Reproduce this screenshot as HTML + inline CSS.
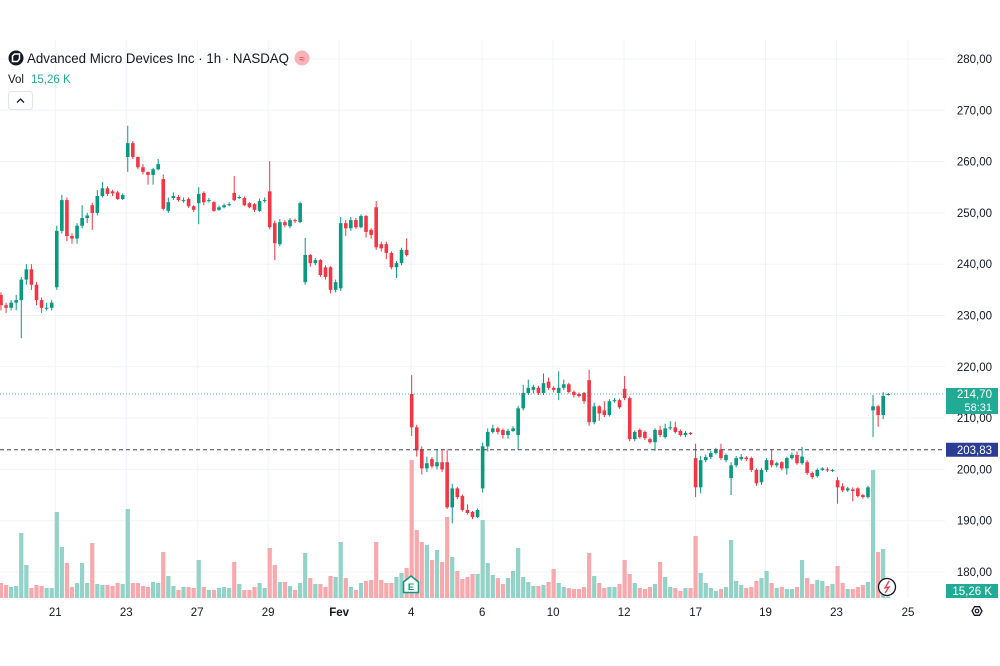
<!DOCTYPE html>
<html><head><meta charset="utf-8"><style>
html,body{margin:0;padding:0;background:#fff;width:1000px;height:666px;overflow:hidden;font-family:"Liberation Sans",sans-serif}
#c{position:absolute;left:0;top:0}
</style></head><body>
<svg id="c" width="1000" height="666" viewBox="0 0 1000 666">
<g id="grid"></g>
<g id="vol"></g>
<g id="candles"></g>
<g id="lines"></g>
<g id="axis"></g>
<g id="xaxis"></g>
<g>
<circle cx="16" cy="58" r="7.5" fill="#131722"/>
<path d="M12.5 61.5 L12.5 56 L14.5 54 L19.5 54 L19.5 59 L17.5 61.5 Z" fill="none" stroke="#fff" stroke-width="1.5"/>
<text x="27" y="63" font-size="14" fill="#131722" textLength="262" lengthAdjust="spacingAndGlyphs">Advanced Micro Devices Inc · 1h · NASDAQ</text>
<circle cx="302" cy="58" r="7.5" fill="#f7b3b8"/>
<text x="302" y="62" font-size="10" fill="#f23645" text-anchor="middle">≈</text>
<text x="8" y="83" font-size="11.5" fill="#131722">Vol</text>
<text x="31" y="83" font-size="11.5" fill="#22ab94">15,26 K</text>
<rect x="8.5" y="91.5" width="24" height="18" rx="3" fill="#fff" stroke="#e0e3eb"/>
<path d="M17 102.5 L20.5 99 L24 102.5" fill="none" stroke="#131722" stroke-width="1.3"/>
</g>
<g>
<path d="M403.5 592.5 V582 L411 576 L418.5 582 V592.5 Z" fill="#fff" stroke="#089981" stroke-width="1.6" stroke-linejoin="round"/>
<text x="411" y="590" font-size="9.5" font-weight="bold" fill="#089981" text-anchor="middle">E</text>
</g>
<g>
<circle cx="887" cy="587" r="8.5" fill="#fff" stroke="#131722" stroke-width="1.3"/>
<path d="M889 581 L885 588 L889 587 L885 593" fill="none" stroke="#f23645" stroke-width="1.3"/>
</g>
<g>
<path d="M972 611 L974.5 606.7 L979.5 606.7 L982 611 L979.5 615.3 L974.5 615.3 Z" fill="none" stroke="#131722" stroke-width="1.3"/>
<circle cx="977" cy="611" r="1.8" fill="none" stroke="#131722" stroke-width="1.2"/>
</g>
</svg>
<script>
const opens=[234,232,231.5,232.5,233,237,239,236,233,231.5,231.5,235.5,246.5,252.5,245.5,245,247.5,249,251.5,250,253.3,254.8,254.2,254,252.7,260.9,263.6,260.9,258.9,258,257.4,258.5,256.6,250.4,252.9,253.1,252.3,252.7,251.3,251.9,253.9,252.3,252.1,250.6,251.1,251.5,253.9,252.9,252.9,251.9,251.7,250.4,252.3,254.2,248,243.9,248.2,247.4,248.6,248.2,236.5,241.8,240.2,240.8,239.4,239.4,235,235.3,248,247,248.6,247.2,249.4,246.7,251.1,243.9,243.9,242.2,239.4,240.2,242.8,214.7,208.2,203.9,200.2,202,200.6,201.4,201.4,192.6,196.3,194.8,192.1,191.7,190.7,196.3,204.5,207.3,208,207.7,206.7,207.5,206.7,211.9,214.9,215.5,215.9,214.9,217.1,215.9,214.9,215.9,216.6,215.1,214.7,214.9,217.4,209.2,212.3,211.5,210.6,213.3,213.5,215.7,213.9,205.9,207.7,207.3,205.9,205.3,207.7,206.3,208,208.2,207.5,206.7,207.1,202.2,196.5,201.8,202.4,203.2,203.9,201.8,198.3,200.8,202,202.3,202.2,199.9,197.5,199.9,201.8,200.8,201.4,200.2,202.2,202.8,201.2,201.4,199.3,198.7,199.9,200,199.8,197.9,196.7,195.9,196.1,196.3,195,194.6,211.5,212.3,210.6,214.5];
const closes=[232,231.5,232.5,233,237,239,236,233,231.5,231.5,232.5,246.5,252.5,245.5,245,247.5,249,249.5,250,253.3,254.8,253.7,253.8,252.7,253.5,263.6,260.9,258.9,258,257.4,258.5,259.5,250.8,252.1,253.3,252.5,252.5,251.3,250.6,253.7,252.1,252.5,250.4,251.1,251.5,251.7,252.5,253.1,251.5,251.1,250.6,252.3,252.5,247.2,244.1,248.2,247.6,248.6,248.4,251.9,241.8,240.2,240.8,237.9,237.5,235,236.5,248,247,248.6,247.2,249.4,246.3,245.7,243.3,243.1,242.2,239.4,240.2,242.8,241.8,208.2,203.7,200.2,201.2,200.6,201.4,200,192.6,196.3,194.6,192.1,191.5,190.7,192.1,204.5,207.3,208,207.3,206.7,207.5,208,211.9,214.9,215.9,216.1,214.9,216.8,215.9,215.5,215.9,216.6,215.1,214.5,214.3,213.3,209.2,212.3,210.9,210.6,213.3,213.5,212.1,213.9,205.9,207.3,206.3,206.1,205.3,207.7,206.7,208,208.2,207.3,206.7,207.1,207,196.5,201.8,202.4,203.2,203.8,202.2,202.8,200.8,202.2,202.4,202,199.9,197.3,199.9,201.8,200.8,201.2,200.2,202.2,202.8,201.2,202.5,199.3,198.5,199.9,200.2,199.8,199.9,196.5,195.9,196.3,195.8,194.8,194.6,196.5,212.3,210.6,214.3,214.7];
const highs=[234.5,232.5,233,234,237.5,240,240,236.5,233.5,232.5,233,247.5,253.5,253,246,248,251.5,250,252,254.5,256,255.2,254.5,254.3,253.8,267,264,261,259.5,258,258.8,260.5,257.5,253,254,253.5,253,253,251.5,255,254.2,252.9,252.3,251.4,251.8,252.1,257.2,253.4,253.2,252.1,251.9,252.8,253,260.1,248.5,248.8,248.6,249,248.9,252.2,245.1,242,241.2,241,239.8,239.6,237,249.2,248.6,249.2,249,249.7,249.6,247,252.3,244.4,244.4,242.5,240.6,243.2,245,218.4,208.7,204.5,202.5,202.4,204,203.9,203.9,197.2,196.6,195.1,193.2,191.9,192.4,205.2,208,208.7,208.3,208,207.9,208.4,212.4,216.5,217.5,216.5,216.3,218.7,217.9,216.2,219.1,217.5,216.9,215.4,215,215.1,219.4,213,212.5,213.3,213.7,213.9,213.8,218.2,214.2,207.6,208,207.6,206.2,208,208.5,208.9,209.4,209.3,207.8,207.5,207.3,205,202.6,202.9,203.6,204.2,205,203.1,201.4,202.6,203,202.6,202.5,200.2,200.3,202.2,203.8,201.5,201.6,202.5,203.3,203.5,204.4,201.8,199.6,200.2,200.4,200.4,200.1,198.5,197.3,196.6,196.5,196.5,195.2,196.8,214.5,212.6,215.1,214.9];
const lows=[231,230.5,231,231,225.6,236,235,232,230.5,231,231,235,246,244.5,244,244,247,248,246.7,249.5,253,253.3,253.3,252.5,252.5,258,260.5,258.5,257.5,255.5,255.5,258.3,250.5,250,252.5,252.2,252,251,250.2,247.8,251.5,252,250.2,250.4,250.9,251.3,252.3,252.7,251.3,250.9,250.2,250.2,252,246.8,240.8,243.5,247.2,247,248,248,236,239.5,239.8,237.5,237,234.3,234.5,234.8,245.5,246.5,246.9,247,245.2,245,242.8,242.5,241,239,237.3,239.8,241.5,206.5,202.5,199,199.5,200.2,200,199.5,192.3,189.5,194.2,191.8,191.2,190.3,190.5,195.5,203.5,207,206.8,206,206,207.3,203.8,211.5,214.5,214.8,214.5,214.5,215.5,215,213.5,215.5,214.8,214,214,212.8,208.5,208.8,209.5,210.2,210.3,213,211.8,213.5,205.5,205.5,206,205.7,205,203.6,206.3,206,207.7,207,206.4,206.3,206.7,194.6,195.3,201.4,202,202.9,201.8,201.4,195,200.4,201.7,201.6,199.5,196.8,197,199.5,200.4,200.4,199.8,199,201.9,200.9,200.9,198.9,198.1,198.4,199.7,199.5,199.5,193.3,195.6,195.6,193.8,194.5,194.3,194.3,206.3,208.3,209.8,214.4];
const volumes=[150,130,110,120,650,330,100,130,120,100,100,860,510,350,110,150,350,150,550,140,130,130,120,150,140,890,150,150,120,110,160,150,460,220,120,80,110,110,100,380,110,80,80,100,110,100,360,140,80,80,110,150,100,500,330,160,160,120,80,150,450,200,140,140,110,220,210,560,200,110,80,150,170,180,560,180,150,150,210,250,300,1380,680,560,530,380,480,360,810,410,270,190,210,240,240,780,350,230,200,140,200,270,500,210,160,120,120,130,160,290,150,110,100,90,90,110,450,220,150,100,110,110,140,380,240,150,100,90,110,140,360,210,110,100,70,100,100,620,250,150,100,70,90,110,580,170,130,100,110,170,200,270,150,100,110,90,90,110,380,200,140,180,170,120,140,320,150,90,90,110,130,160,1280,460,490,15.26];
const priceTicks=[180,190,200,210,220,230,240,250,260,270,280];
const priceTickLabels=["180,00","190,00","200,00","210,00","220,00","230,00","240,00","250,00","260,00","270,00","280,00"];
const timeTickIndex=[10.7,24.7,38.7,52.7,66.7,80.9,94.9,108.9,122.9,137,150.8,164.8,178.9];
const timeTickLabels=["21","23","27","29","Fev","4","6","10","12","17","19","23","25"];
const lastPrice=214.70, prevClose=203.83;

const NS="http://www.w3.org/2000/svg";
const PLOT_R=945, VOL_BASE=598;
function xS(i){return 1+i*5.07;}
function yS(p){return 59+(280-p)*5.13;}
function vS(v){return v*0.1;}
function mk(tag,attrs,parent){const e=document.createElementNS(NS,tag);for(const k in attrs)e.setAttribute(k,attrs[k]);parent.appendChild(e);return e;}
const G=document.getElementById('grid'),V=document.getElementById('vol'),C=document.getElementById('candles'),L=document.getElementById('lines'),A=document.getElementById('axis'),X=document.getElementById('xaxis');
priceTicks.forEach((p,k)=>{
  const l=mk('line',{x1:0,x2:PLOT_R,y1:yS(p),y2:yS(p),stroke:'#f0f3fa','stroke-width':1},G);
  
  
  const t=mk('text',{x:992,y:yS(p)+4,'font-size':11.5,fill:'#131722','text-anchor':'end'},A);
  t.textContent=priceTickLabels[k];
  
  
});
timeTickIndex.forEach((ix,k)=>{
  const x=xS(ix);
  const l=mk('line',{x1:x,x2:x,y1:40,y2:VOL_BASE,stroke:'#f0f3fa','stroke-width':1},G);
  
  
  const t=mk('text',{x:x,y:616,'font-size':11.5,fill:'#131722','text-anchor':'middle','font-weight':timeTickLabels[k]==='Fev'?'bold':'normal'},X);
  t.textContent=timeTickLabels[k];
  
  
});
volumes.forEach((v,i)=>{
  const up=closes[i]>=opens[i];const h=vS(v);
  const r=mk('rect',{x:xS(i)-2.1,y:VOL_BASE-h,width:4.2,height:h,fill:up?'#92d2c7':'#f7a9ae'},V);
  
  
});
opens.forEach((o,i)=>{
  const c=closes[i],up=c>=o,col=up?'#089981':'#f23645',x=xS(i);
  const g=mk('g',{},C);
  
  
  mk('line',{x1:x,x2:x,y1:yS(highs[i]),y2:yS(lows[i]),stroke:col,'stroke-width':1},g);
  const top=yS(Math.max(o,c)),bh=Math.max(1,Math.abs(yS(o)-yS(c)));
  mk('rect',{x:x-1.8,y:top,width:3.6,height:bh,fill:col},g);
});
const lp=mk('line',{x1:0,x2:PLOT_R,y1:yS(lastPrice),y2:yS(lastPrice),stroke:'#089981','stroke-width':1,'stroke-dasharray':'1 2',opacity:0.7},L);


const pc=mk('line',{x1:0,x2:PLOT_R,y1:yS(prevClose),y2:yS(prevClose),stroke:'#434651','stroke-width':1,'stroke-dasharray':'4 3'},L);


const lb=mk('g',{},A);


mk('rect',{x:946,y:yS(lastPrice)-6,width:52,height:26,fill:'#22ab94'},lb);
mk('text',{x:992,y:yS(lastPrice)+4,'font-size':11.5,fill:'#fff','text-anchor':'end'},lb).textContent=lastPrice.toFixed(2).replace('.',',');
mk('text',{x:992,y:yS(lastPrice)+17,'font-size':11,fill:'#fff','text-anchor':'end'},lb).textContent='58:31';
const pb=mk('g',{},A);


mk('rect',{x:946,y:yS(prevClose)-7,width:52,height:14,fill:'#2a3c94'},pb);
mk('text',{x:992,y:yS(prevClose)+4,'font-size':11.5,fill:'#fff','text-anchor':'end'},pb).textContent=prevClose.toFixed(2).replace('.',',');
const vb=mk('g',{},A);


mk('rect',{x:946,y:584,width:52,height:14,fill:'#22ab94'},vb);
mk('text',{x:992,y:595,'font-size':11.5,fill:'#fff','text-anchor':'end'},vb).textContent='15,26 K';
</script>
</body></html>
